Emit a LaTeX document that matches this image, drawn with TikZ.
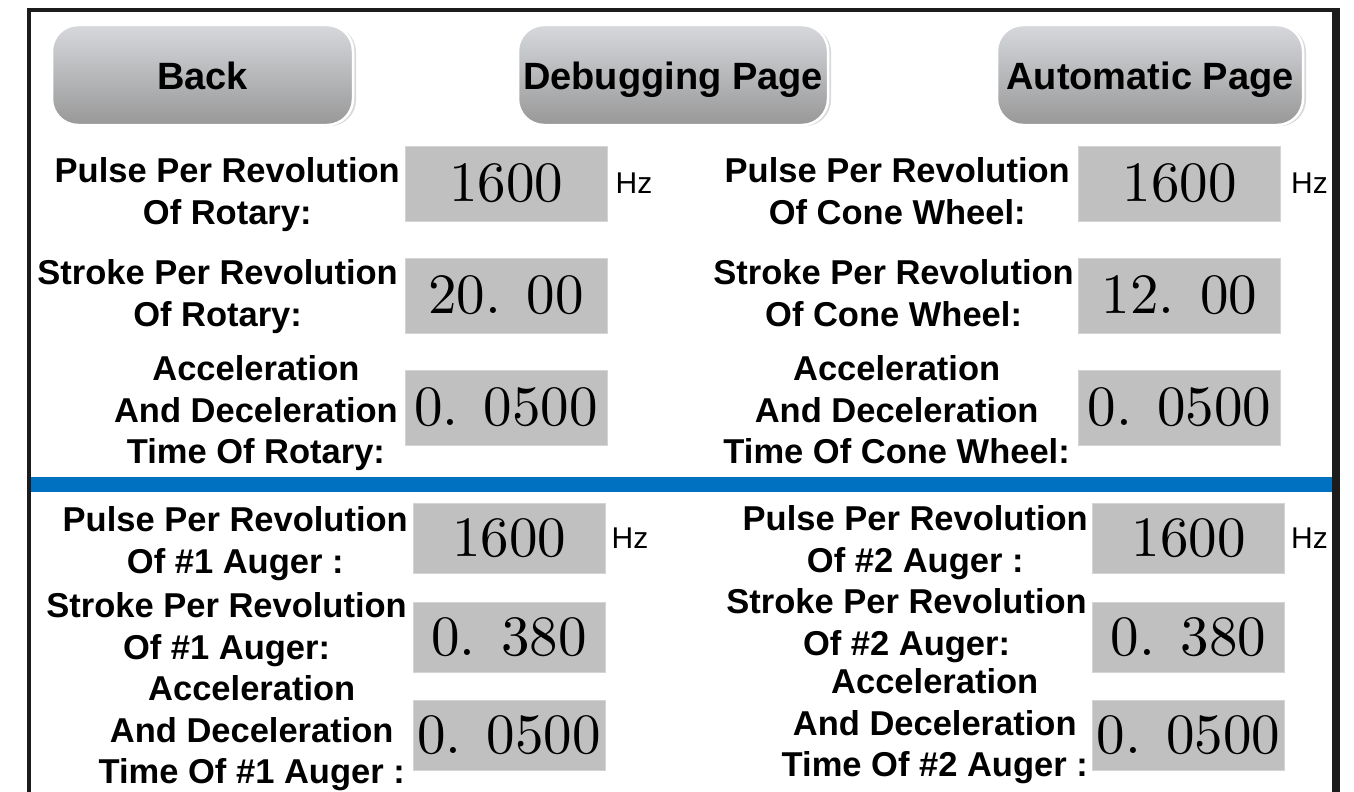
\documentclass[tikz,border=0pt]{standalone}
\usepackage{fontspec}
\usepackage{tikz}
\usetikzlibrary{positioning,shadows}
\newfontfamily\arialish{Liberation Sans}
\newfontfamily\digitfam{lmroman10-regular.otf}
\newcommand\lblfont{\arialish\bfseries\fontsize{34.5}{41.5}\selectfont}
\newcommand\btnfont{\arialish\bfseries\fontsize{38}{38}\selectfont}
\newcommand\hzfont{\arialish\fontsize{30}{30}\selectfont}
\newcommand\valfont{\digitfam\fontsize{57}{57}\selectfont}
\definecolor{FrameInk}{HTML}{1C1C1C}
\definecolor{SepBlue}{HTML}{0070C0}
\definecolor{FieldGray}{HTML}{C0C0C0}
\definecolor{FieldEdge}{HTML}{D4D4D4}
\definecolor{BtnTop}{HTML}{D6D8DC}
\definecolor{BtnMid}{HTML}{C4C5C8}
\definecolor{BtnBot}{HTML}{989898}

\begin{document}
\begin{tikzpicture}[
  x=1pt,y=-1pt,
  button/.style={rounded corners=26pt,top color=BtnTop,middle color=BtnMid,bottom color=BtnBot,draw=white,line width=2.5pt,minimum height=100pt,text height=28pt,text depth=0pt,inner sep=0pt,font=\btnfont,drop shadow={shadow xshift=3pt,shadow yshift=-1pt,opacity=0.3}},
  field/.style={fill=FieldGray,draw=FieldEdge,line width=1pt,minimum width=202pt,minimum height=75pt,inner sep=0pt,font=\valfont},
  lowfield/.style={field,minimum width=192pt,minimum height=70pt},
  caption/.style={align=center,inner sep=0pt,anchor=north east,font=\lblfont},
  unit/.style={inner sep=0pt,font=\hzfont}
]
\useasboundingbox (0,0) rectangle (1354,792);
% frame and separator
\draw[FrameInk,line width=4pt] (29,792) -- (29,10) -- (1336,10);
\draw[FrameInk,line width=8pt] (1336,8) -- (1336,792);
\fill[SepBlue] (31,477) rectangle (1332,492);
% page buttons
\node[button,minimum width=301pt] (back) at (202.5,75) {Back};
\node[button,minimum width=310pt] (debug) at (673,75) {Debugging Page};
\node[button,minimum width=306pt] (auto) at (1150,75) {Automatic Page};
% rotary and cone wheel
\node[caption] (rotPulseLbl) at (400,157.3) {Pulse Per Revolution\\Of Rotary:};
\node[caption] (rotStrokeLbl) at (398,259.3) {Stroke Per Revolution\\Of Rotary:};
\node[caption] (rotAccLbl) at (398,355.3) {Acceleration\\And Deceleration\\Time Of Rotary:};
\node[field] (rotPulse) at (506,183.5) {1600};
\node[field] (rotStroke) at (506,295.5) {20. 00};
\node[field] (rotAcc) at (506,407.5) {0. 0500};
\node[caption] (conePulseLbl) at (1070,157.3) {Pulse Per Revolution\\Of Cone Wheel:};
\node[caption] (coneStrokeLbl) at (1074,259.3) {Stroke Per Revolution\\Of Cone Wheel:};
\node[caption] (coneAccLbl) at (1070,355.3) {Acceleration\\And Deceleration\\Time Of Cone Wheel:};
\node[field] (conePulse) at (1179.5,183.5) {1600};
\node[field] (coneStroke) at (1179.5,295.5) {12. 00};
\node[field] (coneAcc) at (1179.5,407.5) {0. 0500};
% augers
\node[caption] (augAPulseLbl) at (408,506.3) {Pulse Per Revolution\\Of \#1 Auger :};
\node[caption] (augAStrokeLbl) at (407,592.3) {Stroke Per Revolution\\Of \#1 Auger:};
\node[caption] (augAAccLbl) at (405,675.3) {Acceleration\\And Deceleration\\Time Of \#1 Auger :};
\node[lowfield] (augAPulse) at (509,538) {1600};
\node[lowfield] (augAStroke) at (509,637.5) {0. 380};
\node[lowfield] (augAAcc) at (509,735) {0. 0500};
\node[caption] (augBPulseLbl) at (1088,505.3) {Pulse Per Revolution\\Of \#2 Auger :};
\node[caption] (augBStrokeLbl) at (1087,588.3) {Stroke Per Revolution\\Of \#2 Auger:};
\node[caption] (augBAccLbl) at (1088,668.3) {Acceleration\\And Deceleration\\Time Of \#2 Auger :};
\node[lowfield] (augBPulse) at (1188.5,538) {1600};
\node[lowfield] (augBStroke) at (1188.5,637.5) {0. 380};
\node[lowfield] (augBAcc) at (1188.5,735) {0. 0500};
% units
\foreach \f/\d in {rotPulse/8pt,conePulse/10pt,augAPulse/6pt,augBPulse/6pt}{\node[unit,right=\d of \f] (\f Hz) {Hz};}
\end{tikzpicture}
\end{document}
